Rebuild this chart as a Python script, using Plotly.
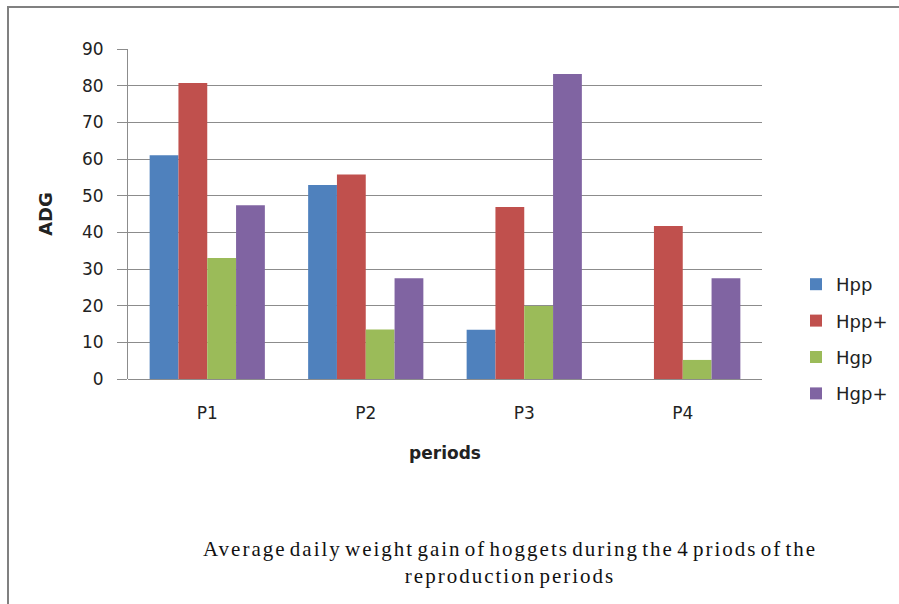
import plotly.graph_objects as go

# Average daily gain (ADG) by reproduction period and hogget group
periods = ["P1", "P2", "P3", "P4"]
hpp = [61, 52.9, 13.4, None]
hpp_plus = [80.7, 55.8, 46.9, 41.7]
hgp = [33, 13.5, 19.9, 5.2]
hgp_plus = [47.4, 27.5, 83.2, 27.5]

series_names = ["Hpp", "Hpp+", "Hgp", "Hgp+"]
series_values = [hpp, hpp_plus, hgp, hgp_plus]
series_colors = ["#4F81BD", "#C0504D", "#9BBB59", "#8064A2"]

y_ticks = [0, 10, 20, 30, 40, 50, 60, 70, 80, 90]

W, H = 899, 604
L, R, T, B = 128, 137, 49, 225
plot_w = W - L - R
plot_h = H - T - B


def px_x(x):
    return (x - L) / plot_w


def px_y(y):
    return (H - B - y) / plot_h


fig = go.Figure()
for name, vals, col in zip(series_names, series_values, series_colors):
    fig.add_trace(go.Bar(
        x=periods, y=vals, name=name, legendgroup=name,
        marker=dict(color=col, line=dict(width=0)),
    ))

span = '<span style="letter-spacing:2px;word-spacing:-4px">'
caption_lines = ["Average daily weight gain of hoggets during the 4 priods of the",
                 "reproduction periods"]
caption = "<br>".join(span + line + "</span>" for line in caption_lines)

frame = dict(color="#808080", width=2)

fig.update_layout(
    width=W, height=H,
    margin=dict(l=L, r=R, t=T, b=B, autoexpand=False),
    paper_bgcolor="white", plot_bgcolor="white",
    barmode="group", bargap=0.273, bargroupgap=0,
    font=dict(family="DejaVu Sans", size=17, color="#222222"),
    showlegend=True,
    legend=dict(
        x=px_x(796), y=px_y(339), xanchor="left", yanchor="middle",
        traceorder="grouped", tracegroupgap=10,
        font=dict(family="DejaVu Sans", size=18, color="#222222"),
        itemwidth=30,
        bgcolor="rgba(0,0,0,0)",
    ),
    xaxis=dict(
        showgrid=False, showline=False, ticks="",
        ticklabelstandoff=22,
        tickfont=dict(size=17),
        title=dict(text="<b>periods</b>", font=dict(size=17, family="DejaVu Sans"), standoff=25),
    ),
    yaxis=dict(
        range=[0, 90], tickvals=y_ticks,
        showgrid=True, gridcolor="#8c8c8c", gridwidth=1,
        showline=True, linecolor="#8c8c8c", linewidth=1,
        ticks="outside", ticklen=10, tickcolor="#8c8c8c",
        ticklabelstandoff=10,
        tickfont=dict(size=17),
        zeroline=True, zerolinecolor="#8c8c8c", zerolinewidth=1,
        title=dict(text="<b>ADG</b>", font=dict(size=18, family="DejaVu Sans"), standoff=24),
    ),
    shapes=[
        # outer frame: top and left edges of the chart border
        dict(type="line", xref="paper", yref="paper",
             x0=px_x(7), x1=px_x(W), y0=px_y(7), y1=px_y(7), line=frame),
        dict(type="line", xref="paper", yref="paper",
             x0=px_x(8), x1=px_x(8), y0=px_y(6), y1=px_y(H), line=frame),
    ],
    annotations=[
        dict(
            text=caption,
            xref="paper", yref="paper", x=px_x(510), y=px_y(562),
            xanchor="center", yanchor="middle", showarrow=False, align="center",
            font=dict(family="Liberation Serif", size=21, color="#111111"),
        ),
    ],
)

fig.write_html("out.html")
